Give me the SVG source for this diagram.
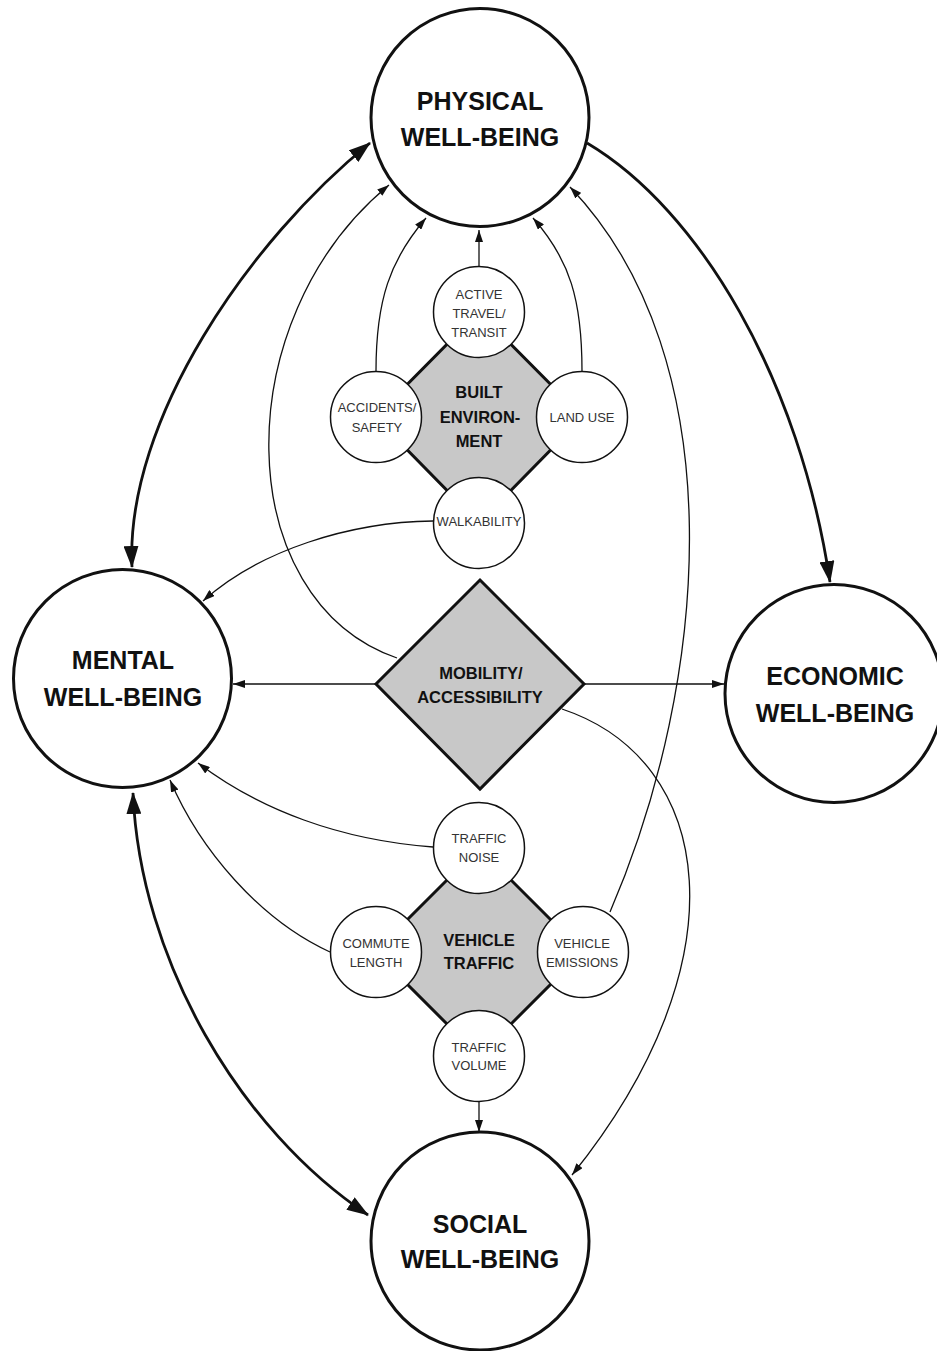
<svg xmlns="http://www.w3.org/2000/svg" width="937" height="1351" viewBox="0 0 937 1351">
<defs>
<marker id="ah" markerUnits="userSpaceOnUse" markerWidth="12" markerHeight="8" refX="12" refY="4" orient="auto-start-reverse"><path d="M0,0 L12,4 L0,8 z" fill="#111"/></marker>
<marker id="AH" markerUnits="userSpaceOnUse" markerWidth="22" markerHeight="15" refX="21" refY="7.5" orient="auto-start-reverse"><path d="M0,0 L22,7.5 L0,15 z" fill="#111"/></marker>
<style>
.big{fill:#fff;stroke:#111;stroke-width:3}
.sm{fill:#fff;stroke:#111;stroke-width:1.5}
.dia{fill:#c8c8c8;stroke:#111;stroke-width:3}
.thin{fill:none;stroke:#111;stroke-width:1.3}
.thick{fill:none;stroke:#111;stroke-width:2.8}
.bt{font-family:"Liberation Sans",Arial,sans-serif;font-weight:bold;font-size:25px;fill:#111;text-anchor:middle}
.mt{font-family:"Liberation Sans",Arial,sans-serif;font-weight:bold;font-size:16.5px;fill:#111;text-anchor:middle}
.st{font-family:"Liberation Sans",Arial,sans-serif;font-size:13px;fill:#333;text-anchor:middle}
</style>
</defs>
<rect width="937" height="1351" fill="#fff"/>
<g id="connectors">
<path class="thick" d="M132,567 C125,420 250,240 370,143" marker-start="url(#AH)" marker-end="url(#AH)"/>
<path class="thick" d="M587,143 C700,210 800,380 830,582" marker-end="url(#AH)"/>
<path class="thick" d="M133,793 C140,960 240,1130 368,1215" marker-start="url(#AH)" marker-end="url(#AH)"/>
<path class="thin" d="M376,684 L233,684" marker-end="url(#ah)"/>
<path class="thin" d="M584,684 L724,684" marker-end="url(#ah)"/>
<path class="thin" d="M397,658 C230,600 225,320 389,185" marker-end="url(#ah)"/>
<path class="thin" d="M562,709 C715,760 745,960 572,1175" marker-end="url(#ah)"/>
<path class="thin" d="M610,912 C710,680 735,360 570,187" marker-end="url(#ah)"/>
<path class="thin" d="M433,521 C350,522 260,550 203,601" marker-end="url(#ah)"/>
<path class="thin" d="M376,371 C376,300 390,260 426,218" marker-end="url(#ah)"/>
<path class="thin" d="M582,371 C582,300 570,260 533,218" marker-end="url(#ah)"/>
<path class="thin" d="M479,266 L479,230" marker-end="url(#ah)"/>
<path class="thin" d="M433,847 C340,840 260,810 198,763" marker-end="url(#ah)"/>
<path class="thin" d="M330,952 C260,920 200,850 170,780" marker-end="url(#ah)"/>
<path class="thin" d="M479,1102 L479,1132" marker-end="url(#ah)"/>
</g>
<g id="physical"><circle class="big" cx="480" cy="117.5" r="109"/><text class="bt" x="480" y="110">PHYSICAL</text><text class="bt" x="480" y="146">WELL-BEING</text></g>
<g id="mental"><circle class="big" cx="122.5" cy="678.5" r="109"/><text class="bt" x="123" y="669">MENTAL</text><text class="bt" x="123" y="706">WELL-BEING</text></g>
<g id="economic"><circle class="big" cx="834" cy="693.5" r="109"/><text class="bt" x="835" y="685">ECONOMIC</text><text class="bt" x="835" y="722">WELL-BEING</text></g>
<g id="social"><circle class="big" cx="480" cy="1241" r="109"/><text class="bt" x="480" y="1233">SOCIAL</text><text class="bt" x="480" y="1268">WELL-BEING</text></g>
<g id="mobility"><polygon class="dia" points="480,580 584,684 480,789 376,684"/><text class="mt" x="481" y="679">MOBILITY/</text><text class="mt" x="480" y="703">ACCESSIBILITY</text></g>
<g id="built-environment"><polygon class="dia" points="479,312 583,417 479,523 375,417"/><text class="mt" x="479" y="398">BUILT</text><text class="mt" x="480" y="423">ENVIRON-</text><text class="mt" x="479" y="447">MENT</text></g>
<g id="active-travel"><circle class="sm" cx="479" cy="312" r="45.5"/><text class="st" x="479" y="299">ACTIVE</text><text class="st" x="479" y="318">TRAVEL/</text><text class="st" x="479" y="337">TRANSIT</text></g>
<g id="accidents"><circle class="sm" cx="376" cy="417" r="45.5"/><text class="st" x="377" y="412">ACCIDENTS/</text><text class="st" x="377" y="432">SAFETY</text></g>
<g id="land-use"><circle class="sm" cx="582" cy="417" r="45.5"/><text class="st" x="582" y="422">LAND USE</text></g>
<g id="walkability"><circle class="sm" cx="479" cy="523" r="45.5"/><text class="st" x="479" y="526">WALKABILITY</text></g>
<g id="vehicle-traffic"><polygon class="dia" points="479,848 583,952 479,1056 375,952"/><text class="mt" x="479" y="946">VEHICLE</text><text class="mt" x="479" y="969">TRAFFIC</text></g>
<g id="traffic-noise"><circle class="sm" cx="479" cy="848" r="45.5"/><text class="st" x="479" y="843">TRAFFIC</text><text class="st" x="479" y="862">NOISE</text></g>
<g id="commute"><circle class="sm" cx="376" cy="952" r="45.5"/><text class="st" x="376" y="948">COMMUTE</text><text class="st" x="376" y="967">LENGTH</text></g>
<g id="emissions"><circle class="sm" cx="583" cy="952" r="45.5"/><text class="st" x="582" y="948">VEHICLE</text><text class="st" x="582" y="967">EMISSIONS</text></g>
<g id="traffic-volume"><circle class="sm" cx="479" cy="1056" r="45.5"/><text class="st" x="479" y="1052">TRAFFIC</text><text class="st" x="479" y="1070">VOLUME</text></g>
</svg>
